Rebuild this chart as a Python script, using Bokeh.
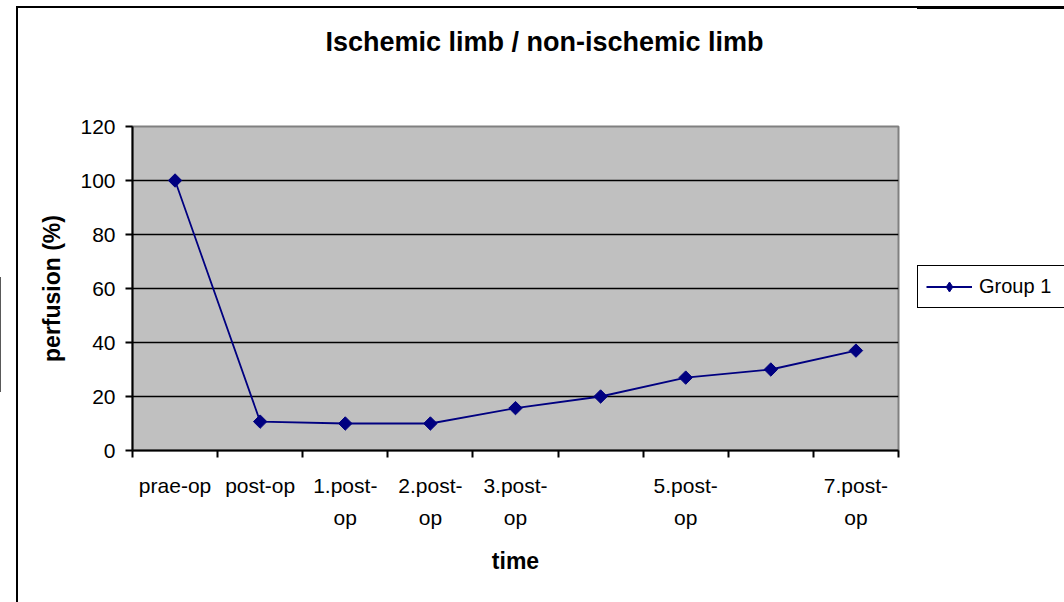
import numpy as np
from bokeh.plotting import figure
from bokeh.layouts import row
from bokeh.models import (Range1d, FixedTicker, Legend, LegendItem, InlineStyleSheet, Title)
from bokeh.embed import file_html
from bokeh.resources import INLINE

# ---- data ----
categories = ["prae-op", "post-op", "1.post-op", "2.post-op", "3.post-op",
              "4.post-op", "5.post-op", "6.post-op", "7.post-op"]
tick_labels = ["prae-op", "post-op", "1.post-\nop", "2.post-\nop", "3.post-\nop",
               "", "5.post-\nop", "", "7.post-\nop"]
group1 = [100, 10.7, 10, 10, 15.7, 20, 27, 30, 37]
series_name = "Group 1"
y_ticks = [0, 20, 40, 60, 80, 100, 120]

FONT = "Liberation Sans"
NAVY = "#000080"
x = [i + 0.5 for i in range(len(categories))]

css_main = InlineStyleSheet(css="""
:host { position: relative; }
:host::after {
  content: ""; position: absolute; left: 16px; top: 6px;
  width: calc(100% - 16px); height: calc(100% - 6px);
  border-left: 2.5px solid black; border-top: 2.5px solid black;
  box-sizing: border-box; pointer-events: none;
}
:host::before {
  content: ""; position: absolute; left: 0px; top: 277px;
  width: 1px; height: 115px; border-right: 1.5px solid #222;
  border-top: 1px solid #222; pointer-events: none;
}
""")
css_side = InlineStyleSheet(css="""
:host { position: relative; }
:host::after {
  content: ""; position: absolute; left: 0px; top: 6px;
  width: 100%; height: 2.5px; background: black; pointer-events: none;
}
""")

p = figure(frame_width=766, frame_height=324, output_backend="svg", toolbar_location=None,
           x_range=Range1d(0, len(categories)), y_range=Range1d(0, 120),
           min_border_left=132, min_border_right=19, min_border_top=126,
           min_border_bottom=152, stylesheets=[css_main])

p.background_fill_color = "#C0C0C0"
p.border_fill_color = "white"
p.outline_line_color = "#808080"
p.outline_line_width = 2

# title (outermost in the "above" panel)
p.title.text = "Ischemic limb / non-ischemic limb"
p.title.text_font = FONT
p.title.text_font_size = "27px"
p.title.text_font_style = "bold"
p.title.text_color = "black"
p.title.align = "left"
p.title.offset = 193
p.title.standoff = 10
# spacer between title and plot area
p.add_layout(Title(text=" ", text_font_size="1px", standoff=62), "above")

# x axis
xa = p.xaxis[0]
xa.ticker = FixedTicker(ticks=x, minor_ticks=list(range(len(categories) + 1)))
xa.major_label_overrides = {xi: lab for xi, lab in zip(x, tick_labels)}
xa.major_tick_line_color = None
xa.minor_tick_line_color = "black"
xa.minor_tick_line_width = 2
xa.minor_tick_out = 7
xa.minor_tick_in = 0
xa.major_tick_out = 7
xa.major_label_standoff = 16
xa.major_label_text_font = FONT
xa.major_label_text_font_size = "21px"
xa.major_label_text_line_height = 1.4
xa.major_label_text_color = "black"
xa.axis_line_color = "black"
xa.axis_line_width = 2
xa.axis_label = "time"
xa.axis_label_text_font = FONT
xa.axis_label_text_font_size = "23px"
xa.axis_label_text_font_style = "bold"
xa.axis_label_text_color = "black"
xa.axis_label_standoff = 16

# y axis
ya = p.yaxis[0]
ya.ticker = FixedTicker(ticks=y_ticks)
ya.minor_tick_line_color = None
ya.major_tick_out = 7
ya.major_tick_in = 0
ya.major_tick_line_width = 2
ya.major_tick_line_color = "black"
ya.major_label_standoff = 10
ya.major_label_text_font = FONT
ya.major_label_text_font_size = "21px"
ya.major_label_text_color = "black"
ya.axis_line_color = "black"
ya.axis_line_width = 2
ya.axis_label = "perfusion (%)"
ya.axis_label_text_font = FONT
ya.axis_label_text_font_size = "23px"
ya.axis_label_text_font_style = "bold"
ya.axis_label_text_color = "black"
ya.axis_label_standoff = 12

p.xgrid.grid_line_color = None
p.ygrid.ticker = FixedTicker(ticks=y_ticks)
p.ygrid.grid_line_color = "black"
p.ygrid.grid_line_width = 1.5

# series
p.line(x, group1, line_color=NAVY, line_width=1.8)
p.scatter(x, group1, marker="square", angle=np.pi / 4, size=9.5,
          fill_color=NAVY, line_color=NAVY)

# legend panel (right part of the chart area); its frame is aligned with the main frame
p2 = figure(width=147, height=602, output_backend="svg", toolbar_location=None,
            x_range=Range1d(-1000, -999), y_range=Range1d(-1000, -999),
            x_axis_location=None, y_axis_location=None, min_border=0,
            stylesheets=[css_side])
p2.outline_line_color = None
p2.background_fill_color = "white"
p2.border_fill_color = "white"
p2.grid.grid_line_color = None
# swatch renderers reuse the series data (outside this panel's range, so only the legend shows)
sw_line = p2.line(x, group1, line_color=NAVY, line_width=1.8)
sw_mark = p2.scatter(x, group1, marker="diamond", size=13, fill_color=NAVY, line_color=NAVY)

legend = Legend(items=[LegendItem(label=series_name, renderers=[sw_line, sw_mark])],
                location=(0, 142), orientation="vertical",
                label_text_font=FONT, label_text_font_size="20px",
                label_text_color="black", label_width=100,
                glyph_width=46, glyph_height=25, padding=8, spacing=0, margin=0,
                label_standoff=7, border_line_color="black", border_line_alpha=1,
                border_line_width=1.5,
                background_fill_color="white", background_fill_alpha=1)
p2.add_layout(legend, "center")

layout = row(p, p2, spacing=0)
open("out.html", "w").write(file_html(layout, INLINE))
